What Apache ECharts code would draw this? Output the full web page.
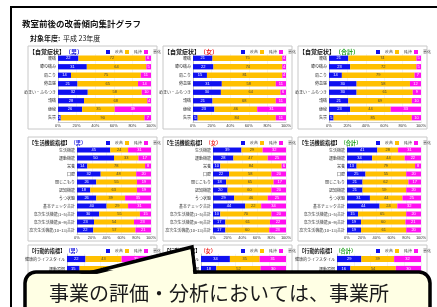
<!DOCTYPE html>
<html><head><meta charset="utf-8">
<script src="https://cdn.jsdelivr.net/npm/echarts/dist/echarts.min.js"></script>
<style>html,body{margin:0;padding:0;background:#fff}#c{width:437px;height:307px}</style>
</head><body><div id="c"></div>
<script>
// ---- data ----
const seriesNames = ['改善', '維持', '悪化'];
const tickValues = [0, 20, 40, 60, 80, 100];

const symptomCats = ['腰痛', '膝の痛み', '肩こり', '倦怠感', 'めまい・ふらつき', '頭痛', '便秘', '失禁'];
const symMaleImp   = [22, 31, 14, 21, 32, 28, 26, 3];
const symMaleKeep  = [72, 64, 75, 65, 58, 68, 35, 90];
const symMaleWorse = [6, 5, 11, 14, 10, 4, 39, 7];
const symFemImp    = [21, 22, 15, 31, 30, 21, 23, 5];
const symFemKeep   = [75, 74, 81, 58, 64, 68, 46, 84];
const symFemWorse  = [4, 4, 4, 11, 6, 11, 31, 11];
const symAllImp    = [21, 23, 14, 30, 30, 21, 23, 5];
const symAllKeep   = [74, 72, 79, 58, 61, 69, 44, 85];
const symAllWorse  = [5, 5, 7, 12, 9, 10, 33, 10];

const lifeCats = ['生活機能', '運動機能', '栄養', '口腔', '閉じこもり', '認知機能', 'うつ状態', '基本チェック合計',
  '高次生活機能(1~5)合計', '高次生活機能(6~9)合計', '高次生活機能(10~13)合計'];
const lifeMaleImp   = [45, 50, 14, 32, 26, 18, 26, 40, 30, 23, 22];
const lifeMaleKeep  = [24, 33, 78, 48, 55, 63, 39, 29, 55, 54, 57];
const lifeMaleWorse = [31, 17, 8, 20, 19, 19, 35, 31, 15, 23, 21];
const lifeFemImp    = [39, 28, 10, 22, 18, 20, 29, 44, 10, 17, 17];
const lifeFemKeep   = [29, 47, 84, 58, 65, 60, 46, 22, 70, 61, 60];
const lifeFemWorse  = [32, 25, 6, 20, 17, 20, 25, 34, 20, 22, 23];
const lifeAllImp    = [41, 34, 13, 25, 21, 21, 31, 44, 15, 19, 19];
const lifeAllKeep   = [28, 44, 79, 55, 62, 59, 44, 24, 65, 60, 61];
const lifeAllWorse  = [31, 22, 8, 20, 17, 20, 25, 32, 20, 21, 20];

const actCats = ['健康的ライフスタイル', '運動習慣'];
const actMaleImp   = [22, 15];
const actMaleKeep  = [43, 55];
const actMaleWorse = [35, 30];
const actFemImp    = [34, 18];
const actFemKeep   = [35, 52];
const actFemWorse  = [31, 30];
const actAllImp    = [29, 16];
const actAllKeep   = [39, 54];
const actAllWorse  = [32, 30];

const titleText = '教室前後の改善傾向集計グラフ';
const yearLabel = '対象年度:';
const yearText = '平成 23年度';
const calloutText = '事業の評価・分析においては、事業所';

// ---- layout ----
const colors = ['#1010F0', '#FFC000', '#FF10F0'];
const cols = [28, 163, 298];
const panelW = 129;
const rows = [
  {boxTop: 46, boxH: 83, gridTop: 54, gridH: 68, head: '【自覚症状】', hs: 6, cats: symptomCats, plotL: [58, 193, 329],
    data: [[symMaleImp, symMaleKeep, symMaleWorse], [symFemImp, symFemKeep, symFemWorse], [symAllImp, symAllKeep, symAllWorse]]},
  {boxTop: 137, boxH: 104, gridTop: 146, gridH: 88, head: '【生活機能指標】', hs: 5.2, cats: lifeCats, plotL: [77, 213, 347],
    data: [[lifeMaleImp, lifeMaleKeep, lifeMaleWorse], [lifeFemImp, lifeFemKeep, lifeFemWorse], [lifeAllImp, lifeAllKeep, lifeAllWorse]]},
  {boxTop: 245, boxH: 80, gridTop: 254, gridH: 20, head: '【行動的指標】', hs: 5.2, cats: actCats, plotL: [67, 201, 337],
    data: [[actMaleImp, actMaleKeep, actMaleWorse], [actFemImp, actFemKeep, actFemWorse], [actAllImp, actAllKeep, actAllWorse]]}
];
const suffixes = [['（男）', '#2020E0'], ['（女）', '#F02020'], ['（合計）', '#20A020']];

const grids = [], xAxes = [], yAxes = [], series = [], legends = [], graphics = [];
const FONT = '"Noto Sans CJK JP", sans-serif';

// frame
graphics.push({type: 'line', z: 1, shape: {x1: 11, y1: 7, x2: 11, y2: 307}, style: {stroke: '#000', lineWidth: 2}});
graphics.push({type: 'line', z: 1, shape: {x1: 10, y1: 7, x2: 437, y2: 7}, style: {stroke: '#000', lineWidth: 2}});
graphics.push({type: 'text', z: 1, x: 22, y: 24, style: {text: titleText, fontSize: 8.5, fontWeight: 'bold', fontFamily: FONT, fill: '#111', verticalAlign: 'middle'}});
graphics.push({type: 'text', z: 1, x: 30, y: 38, style: {text: yearLabel, fontSize: 7, fontWeight: 'bold', fontFamily: FONT, fill: '#111', verticalAlign: 'middle'}});
graphics.push({type: 'text', z: 1, x: 63, y: 38, style: {text: yearText, fontSize: 7, fontFamily: FONT, fill: '#111', verticalAlign: 'middle'}});

let gi = 0;
rows.forEach((r, ri) => {
  cols.forEach((cx, ci) => {
    graphics.push({type: 'rect', z: 0, shape: {x: cx, y: r.boxTop, width: panelW, height: r.boxH},
      style: {fill: '#fff', stroke: '#c8c8c8', lineWidth: 1}});
    const headW = r.head.length * r.hs;
    graphics.push({type: 'text', z: 1, x: cx + 1, y: r.boxTop + 6, style: {text: r.head, fontSize: r.hs, fontWeight: 'bold', fontFamily: FONT, fill: '#111', verticalAlign: 'middle'}});
    graphics.push({type: 'text', z: 1, x: cx + 1 + headW, y: r.boxTop + 6, style: {text: suffixes[ci][0], fontSize: r.hs, fontWeight: 'bold', fontFamily: FONT, fill: suffixes[ci][1], verticalAlign: 'middle'}});
    const left = r.plotL[ci];
    const right = cx + panelW - 6;
    grids.push({left: left, top: r.gridTop, width: right - left, height: r.gridH, containLabel: false});
    xAxes.push({type: 'value', gridIndex: gi, min: tickValues[0], max: tickValues[tickValues.length - 1], interval: 20,
      axisLabel: {fontSize: 4, color: '#333', margin: 2, formatter: '{value}%'},
      axisLine: {show: true, lineStyle: {color: '#999', width: 0.5}}, axisTick: {show: false},
      splitLine: {show: true, lineStyle: {color: '#e4e4e4', width: 0.5}}});
    yAxes.push({type: 'category', gridIndex: gi, data: r.cats, inverse: true,
      axisLabel: {fontSize: 4, color: '#333', margin: 2, fontFamily: FONT},
      axisLine: {show: true, lineStyle: {color: '#999', width: 0.5}}, axisTick: {show: false}});
    legends.push({data: seriesNames, left: cx + 78, top: r.boxTop + 4, itemWidth: 4, itemHeight: 4, itemGap: 2,
      padding: 0, icon: 'rect', textStyle: {fontSize: 4, color: '#333'}, selectedMode: false});
    r.data[ci].forEach((arr, k) => {
      series.push({type: 'bar', name: seriesNames[k], xAxisIndex: gi, yAxisIndex: gi, stack: 's' + gi,
        data: arr, barWidth: '62%', itemStyle: {color: colors[k]},
        label: {show: true, position: 'inside', fontSize: 4, color: k === 1 ? '#444' : '#fff'}});
    });
    gi++;
  });
});

// callout (rounded box + pointer)
const cream = '#FFFFE4';
graphics.push({type: 'rect', z: 100, shape: {x: 25, y: 272, width: 405, height: 70, r: 11},
  style: {fill: cream, stroke: '#000', lineWidth: 3.5}});
graphics.push({type: 'polygon', z: 101, shape: {points: [[93, 272], [192, 247], [195, 272]]},
  style: {fill: cream, stroke: '#000', lineWidth: 3.5, lineJoin: 'miter'}});
graphics.push({type: 'polygon', z: 102, shape: {points: [[97, 274], [190, 251.5], [190.6, 251.5], [193.3, 274]]},
  style: {fill: cream}});
graphics.push({type: 'text', z: 103, x: 49, y: 293,
  style: {text: calloutText, fontSize: 20, fontFamily: FONT, fill: '#1a1a1a', verticalAlign: 'middle'}});

const chart = echarts.init(document.getElementById('c'), null, {renderer: 'canvas'});
chart.setOption({
  backgroundColor: '#fff',
  animation: false,
  grid: grids, xAxis: xAxes, yAxis: yAxes, legend: legends, series: series,
  graphic: {elements: graphics}
});
</script></body></html>
